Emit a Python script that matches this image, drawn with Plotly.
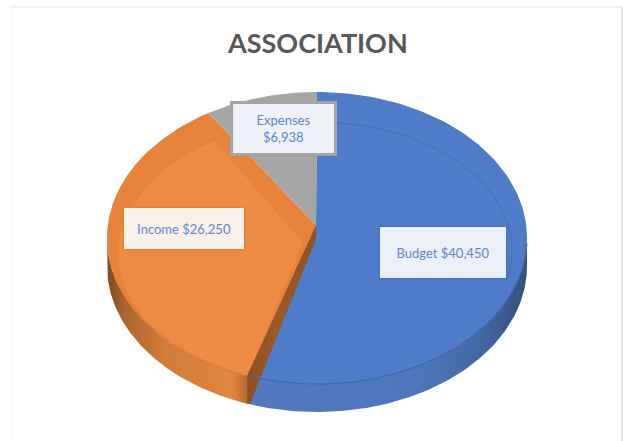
import numpy as np
import plotly.graph_objects as go

categories = ["Budget", "Income", "Expenses"]
values = [40450, 26250, 6938]
top_colors = ["#4F7CC8", "#E8833A", "#A5A5A5"]
title_text = "ASSOCIATION"

W, H = 623, 441
CX, CY, RX, RY = 317.0, 238.0, 210.0, 146.0
IN_CX, IN_CY, IN_RX, IN_RY = 317.0, 250.0, 195.0, 128.0
APEX = (316.0, 225.0)
DEPTH = 28.0
SPREAD = 1.0085

cum = np.cumsum(values) / np.sum(values) * 360.0 * SPREAD
cum[-1] = 360.0
t1, t2 = cum[0], cum[1]


def rim(a, b, cx=CX, cy=CY, rx=RX, ry=RY, n=140):
    t = np.radians(np.linspace(a, b, n))
    return cx + rx * np.sin(t), cy - ry * np.cos(t)


def poly(x, y, color=None, name="", grad=None):
    kw = dict(x=list(x), y=list(y), mode="lines", fill="toself", line=dict(width=0),
              name=name, hoverinfo="skip", showlegend=False)
    if grad:
        kw["fillgradient"] = dict(type="horizontal", colorscale=grad)
    else:
        kw["fillcolor"] = color
    return go.Scatter(**kw)


def side(a, b, color_grad, name):
    x, y = rim(a, b)
    return poly(np.r_[x, x[::-1]], np.r_[y, y[::-1] + DEPTH], name=name, grad=color_grad)


traces = []
# Side walls
traces.append(side(90, t1, [[0, "#5079BE"], [0.6, "#4E76BA"], [0.85, "#42679F"], [1, "#33507F"]], "Budget side"))
traces.append(side(t1, 270, [[0, "#7E4A1E"], [0.12, "#A9652C"], [0.4, "#D07C3B"], [0.9, "#E0873F"], [1, "#B56A2E"]], "Income side"))

# Top faces
x, y = rim(0, t1)
traces.append(poly(np.r_[APEX[0], x], np.r_[APEX[1], y], top_colors[0], "Budget"))
x, y = rim(t1, t2)
traces.append(poly(np.r_[APEX[0], x], np.r_[APEX[1], y], "#E6823A", "Income"))
x, y = rim(t2, 360)
traces.append(poly(np.r_[APEX[0], x], np.r_[APEX[1], y], top_colors[2], "Expenses"))

# Lighter inner face of the Income slice (bevel fades out toward the bottom)
tt = np.linspace(t1, t2 - 0.5, 140)
w = np.clip((tt - t1) / (285 - t1), 0, 1) ** 1.5
ox, oy = rim(t1, t2 - 0.5)
ix, iy = rim(t1, t2 - 0.5, IN_CX, IN_CY, IN_RX, IN_RY)
fx, fy = ox + w * (ix - ox), oy + w * (iy - oy)
traces.append(poly(np.r_[APEX[0] - 13, fx], np.r_[APEX[1] + 18, fy], "#ED8B45", "Income inner"))

# Cut face between Income and Budget
rx_, ry_ = rim(t1, t1, n=1)
traces.append(poly([APEX[0], rx_[0], rx_[0], rx_[0] + 3, APEX[0]],
                   [APEX[1], ry_[0], ry_[0] + DEPTH, ry_[0] + DEPTH, APEX[1] + 14],
                   None, "Cut face",
                   grad=[[0, "#8F5220"], [0.5, "#9A5A28"], [1, "#8F5220"]]))

# Seam along the front rim and inner bevel line on Budget
x, y = rim(92, t1)
traces.append(go.Scatter(x=x, y=y, mode="lines", line=dict(color="#3F66AD", width=1.2),
                         hoverinfo="skip", showlegend=False, name="seam"))
x, y = rim(t1, 250)
traces.append(go.Scatter(x=x, y=y, mode="lines", line=dict(color="#C9743A", width=0.8),
                         hoverinfo="skip", showlegend=False, name="seam"))
x, y = rim(0, 105, IN_CX, IN_CY, IN_RX, IN_RY)
traces.append(go.Scatter(x=x, y=y, mode="lines", line=dict(color="#4672BC", width=1.2),
                         hoverinfo="skip", showlegend=False, name="bevel"))

fig = go.Figure(traces)

label_font = "Lato, Carlito, Calibri, sans-serif"
text_color = "#5F86D0"


def label(text, xc, yc, w, h, bg, border, bw):
    fig.add_annotation(x=xc, y=yc, xref="x", yref="y", text=text, showarrow=False,
                       width=w, height=h, bgcolor=bg, bordercolor=border, borderwidth=bw,
                       borderpad=0, valign="middle", align="center",
                       font=dict(family=label_font, size=13, color=text_color))


label(f"{categories[0]} ${values[0]:,}", 443, 252, 126, 51, "#ECF0F8", "#4472C4", 1)
label(f"{categories[1]} ${values[1]:,}", 184, 228, 120, 41, "#FBF1EB", "#ED7D31", 1)
label(f"{categories[2]}<br>${values[2]:,}", 283.5, 128.5, 101, 49, "#EEF1F7", "#A5A5A5", 3)

# Title
fig.add_annotation(x=317, y=42, xref="x", yref="y", text=f"<b>{title_text}</b>", showarrow=False,
                   font=dict(family=label_font, size=27, color="#595959"))

# Faint screenshot frame
fig.add_shape(type="line", x0=10, x1=W, y0=7, y1=7, xref="x", yref="y", line=dict(color="#E6E6E6", width=1))
fig.add_shape(type="line", x0=12, x1=12, y0=7, y1=H, xref="x", yref="y", line=dict(color="#F4F4F4", width=1))
fig.add_shape(type="line", x0=622, x1=622, y0=7, y1=H, xref="x", yref="y", line=dict(color="#E6E6E6", width=2))

fig.update_layout(
    width=W, height=H, margin=dict(l=0, r=0, t=0, b=0), autosize=False,
    paper_bgcolor="white", plot_bgcolor="white", showlegend=False,
    xaxis=dict(range=[0, W], visible=False, fixedrange=True),
    yaxis=dict(range=[H, 0], visible=False, fixedrange=True),
)
fig.write_html("out.html", config={"displayModeBar": False},
               post_script="document.body.style.margin='0';document.body.style.overflow='hidden';")
